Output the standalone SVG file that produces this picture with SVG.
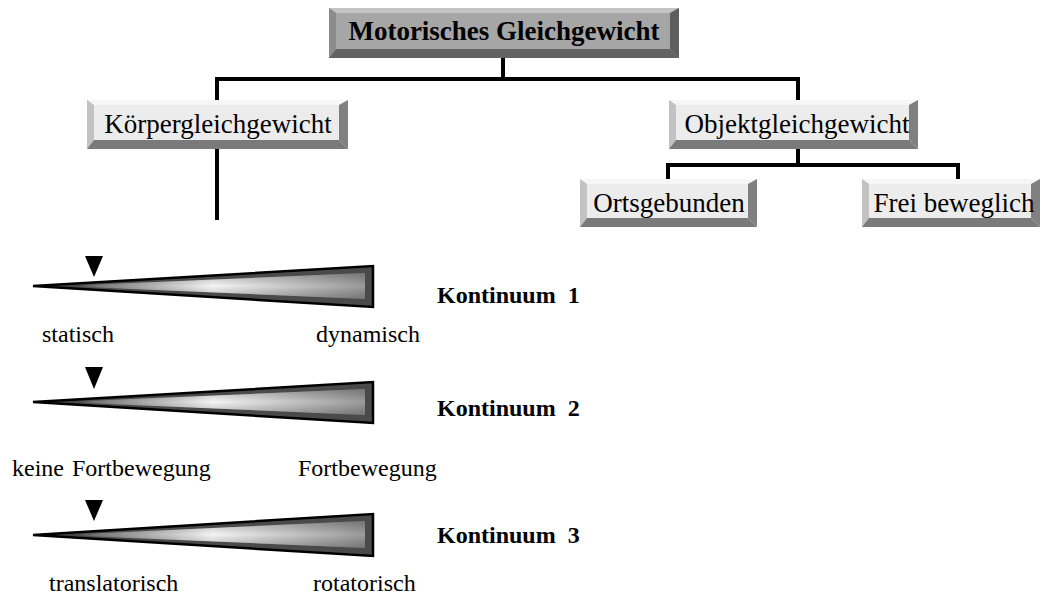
<svg xmlns="http://www.w3.org/2000/svg" width="1044" height="596" viewBox="0 0 1044 596">
<defs>
<linearGradient id="wg" x1="0" y1="0" x2="1" y2="0">
<stop offset="0" stop-color="#222"/>
<stop offset="0.12" stop-color="#777"/>
<stop offset="0.5" stop-color="#f4f4f4"/>
<stop offset="1" stop-color="#9a9a9a"/>
</linearGradient>
<linearGradient id="wv" x1="0" y1="0" x2="0" y2="1">
<stop offset="0" stop-color="#000" stop-opacity="0.25"/>
<stop offset="0.5" stop-color="#000" stop-opacity="0"/>
<stop offset="1" stop-color="#000" stop-opacity="0.25"/>
</linearGradient>
</defs>
<style>
.t{font-family:"Liberation Serif","Times New Roman",serif;fill:#000}
.bx{font-size:27px}
.lb{font-size:24px}
.b{font-weight:bold}
.con{stroke:#000;stroke-width:4;fill:none;stroke-linecap:square}
.face1{fill:#a6a6a6}.top1{fill:#c4c4c4}.left1{fill:#8c8c8c}.right1{fill:#5e5e5e}.bot1{fill:#626262}
.face2{fill:#ececec}.top2{fill:#f6f6f6}.left2{fill:#c2c2c2}.right2{fill:#808080}.bot2{fill:#7a7a7a}
.wout{fill:#4a4a4a;stroke:#000;stroke-width:2.5;stroke-linejoin:miter}
.mk{fill:#000}
</style>

<g id="connectors">
<polyline class="con" points="503,58 503,79"/>
<polyline class="con" points="217,100 217,79 798,79 798,100"/>
<polyline class="con" points="217,149 217,218"/>
<polyline class="con" points="798,149 798,165"/>
<polyline class="con" points="668,179 668,165 958,165 958,179"/>
</g>

<g id="n-motorisches">
<rect class="face1" x="329" y="8" width="350" height="50"/>
<polygon class="top1" points="329,8 679,8 670,13 336,13"/>
<polygon class="left1" points="329,8 336,13 336,49 329,58"/>
<polygon class="right1" points="679,8 679,58 670,49 670,13"/>
<polygon class="bot1" points="329,58 679,58 670,49 336,49"/>
<text class="t bx b" x="504" y="40" text-anchor="middle" font-size="27.5">Motorisches Gleichgewicht</text>
</g>

<g id="n-koerper">
<rect class="face2" x="87" y="100" width="261" height="49"/>
<polygon class="top2" points="87,100 348,100 339,105 94,105"/>
<polygon class="left2" points="87,100 94,105 94,140 87,149"/>
<polygon class="right2" points="348,100 348,149 339,140 339,105"/>
<polygon class="bot2" points="87,149 348,149 339,140 94,140"/>
<text class="t bx" x="218" y="133" text-anchor="middle">Körpergleichgewicht</text>
</g>

<g id="n-objekt">
<rect class="face2" x="669" y="100" width="249" height="49"/>
<polygon class="top2" points="669,100 918,100 909,105 676,105"/>
<polygon class="left2" points="669,100 676,105 676,140 669,149"/>
<polygon class="right2" points="918,100 918,149 909,140 909,105"/>
<polygon class="bot2" points="669,149 918,149 909,140 676,140"/>
<text class="t bx" x="797" y="133" text-anchor="middle">Objektgleichgewicht</text>
</g>

<g id="n-orts">
<rect class="face2" x="580" y="179" width="177" height="48"/>
<polygon class="top2" points="580,179 757,179 748,184 587,184"/>
<polygon class="left2" points="580,179 587,184 587,218 580,227"/>
<polygon class="right2" points="757,179 757,227 748,218 748,184"/>
<polygon class="bot2" points="580,227 757,227 748,218 587,218"/>
<text class="t bx" x="669" y="212" text-anchor="middle">Ortsgebunden</text>
</g>

<g id="n-frei">
<rect class="face2" x="862" y="179" width="178" height="48"/>
<polygon class="top2" points="862,179 1040,179 1031,184 869,184"/>
<polygon class="left2" points="862,179 869,184 869,218 862,227"/>
<polygon class="right2" points="1040,179 1040,227 1031,218 1031,184"/>
<polygon class="bot2" points="862,227 1040,227 1031,218 869,218"/>
<text class="t bx" x="954" y="212" text-anchor="middle">Frei beweglich</text>
</g>

<g id="k1">
<polygon class="wout" points="33,286 373,266 373,307"/>
<polygon fill="url(#wg)" points="60,286 365,273 365,299"/>
<polygon fill="url(#wv)" points="60,286 365,273 365,299"/>
<polygon class="mk" points="85,256 103,256 94,277"/>
<text class="t lb b" x="437" y="303">Kontinuum&#160;&#160;1</text>
<text class="t lb" x="42" y="342">statisch</text>
<text class="t lb" x="316" y="342">dynamisch</text>
</g>

<g id="k2">
<polygon class="wout" points="33,402 373,382 373,423"/>
<polygon fill="url(#wg)" points="60,402 365,389 365,415"/>
<polygon fill="url(#wv)" points="60,402 365,389 365,415"/>
<polygon class="mk" points="85,367 103,367 94,389"/>
<text class="t lb b" x="437" y="416">Kontinuum&#160;&#160;2</text>
<text class="t lb" x="12" y="476">keine <tspan x="72">Fortbewegung</tspan></text>
<text class="t lb" x="298" y="476">Fortbewegung</text>
</g>

<g id="k3">
<polygon class="wout" points="33,535 373,514 373,556"/>
<polygon fill="url(#wg)" points="60,535 365,521 365,548"/>
<polygon fill="url(#wv)" points="60,535 365,521 365,548"/>
<polygon class="mk" points="85,500 103,500 94,521"/>
<text class="t lb b" x="437" y="543">Kontinuum&#160;&#160;3</text>
<text class="t lb" x="49" y="591">translatorisch</text>
<text class="t lb" x="313" y="591">rotatorisch</text>
</g>
</svg>
